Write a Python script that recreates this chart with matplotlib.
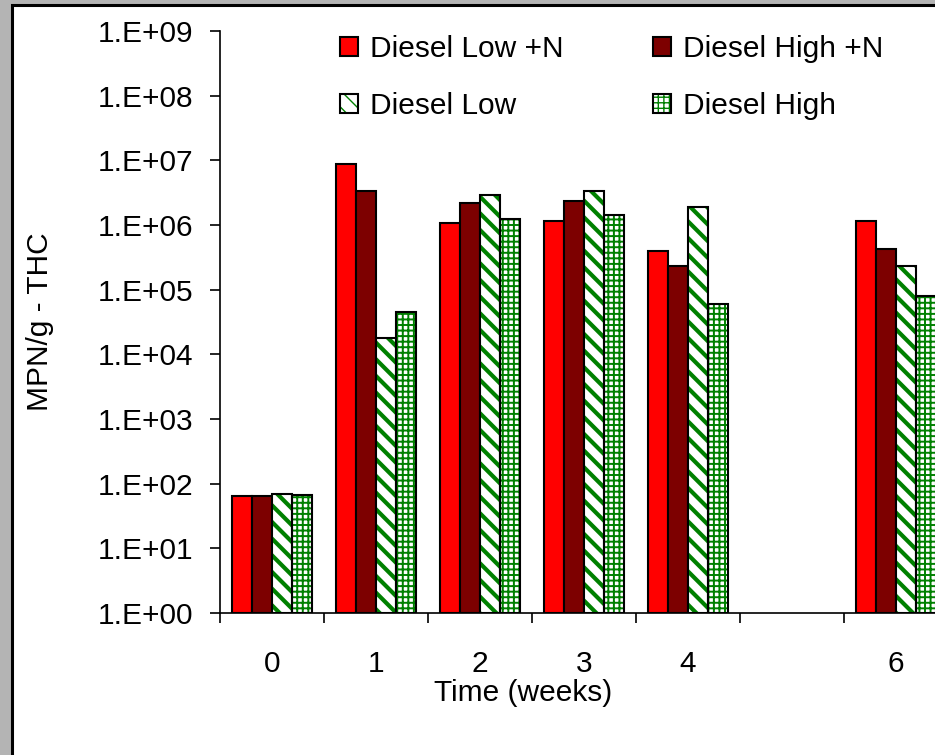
import matplotlib
matplotlib.use("Agg")
import matplotlib.pyplot as plt
import matplotlib.patches as patches
from matplotlib.legend_handler import HandlerTuple

W, H = 935, 755

weeks = [0, 1, 2, 3, 4, 6]
week_labels = ["0", "1", "2", "3", "4", "6"]

low_n = [65, 8.7e6, 1.06e6, 1.14e6, 3.96e5, 1.15e6]
high_n = [65, 3.35e6, 2.21e6, 2.35e6, 2.32e5, 4.2e5]
low = [68, 1.77e4, 2.91e6, 3.35e6, 1.90e6, 2.35e5]
high = [66, 4.47e4, 1.22e6, 1.43e6, 6.0e4, 8.0e4]

series = [
    ("Diesel Low +N", low_n, "#ff0000", None),
    ("Diesel High +N", high_n, "#7d0000", None),
    ("Diesel Low", low, "white", "\\\\"),
    ("Diesel High", high, "white", "+++"),
]

plt.rcParams["font.family"] = ["Liberation Sans", "DejaVu Sans"]
FS = 21.5
HATCH_GREEN = "#008000"


def set_hatch_width(artist, lw):
    if hasattr(artist, "set_hatch_linewidth"):
        artist.set_hatch_linewidth(lw)


fig = plt.figure(figsize=(W / 100, H / 100), dpi=100)
fig.patch.set_facecolor("#b4b4b4")

# white panel with a black border running off the right and bottom edges
panel = patches.Rectangle((11.5 / W, -0.05), 1.1, 1 - 4.5 / H + 0.05,
                          transform=fig.transFigure, facecolor="white",
                          edgecolor="black", linewidth=2.2, zorder=-5)
fig.patches.append(panel)

ax = fig.add_axes([220 / W, 142 / H, 728 / W, 582 / H])
ax.set_facecolor("none")

width = 0.19
offsets = [-1.5, -0.5, 0.5, 1.5]
handles = {}
for (name, vals, color, hatch), off in zip(series, offsets):
    xs = [w + off * width for w in weeks]
    heights = [v - 1 for v in vals]
    if hatch is None:
        ax.bar(xs, heights, width, bottom=1, color=color,
               edgecolor="black", linewidth=1.5, zorder=2)
        handles[name] = patches.Patch(facecolor=color, edgecolor="black",
                                      linewidth=1.5)
    else:
        hlw = 3.0 if hatch.startswith("\\") else 1.4
        with plt.rc_context({"hatch.linewidth": hlw}):
            fill = ax.bar(xs, heights, width, bottom=1, color="white",
                          edgecolor=HATCH_GREEN, hatch=hatch, linewidth=0,
                          zorder=2)
            for b in fill:
                set_hatch_width(b, hlw)
            hp = patches.Patch(facecolor="white", edgecolor=HATCH_GREEN,
                               hatch=hatch, linewidth=0)
            set_hatch_width(hp, hlw)
        ax.bar(xs, heights, width, bottom=1, fill=False,
               edgecolor="black", linewidth=1.5, zorder=3)
        outline = patches.Patch(fill=False, edgecolor="black", linewidth=1.5)
        handles[name] = (hp, outline)

ax.set_yscale("log")
ax.set_ylim(1, 1e9)
ax.set_xlim(-0.5, 6.5)

ax.set_yticks([10 ** k for k in range(10)])
ax.set_yticklabels([f"1.E+{k:02d}" for k in range(10)], fontsize=FS)
ax.yaxis.set_minor_locator(matplotlib.ticker.NullLocator())
ax.tick_params(axis="y", which="major", direction="out", length=7.2,
               width=1.2, pad=12)

ax.set_xticks([x - 0.5 for x in range(8)])
ax.set_xticklabels([])
ax.set_xticks(weeks, minor=True)
ax.set_xticklabels(week_labels, minor=True, fontsize=FS)
ax.tick_params(axis="x", which="major", direction="out", length=7.2,
               width=1.2)
ax.tick_params(axis="x", which="minor", length=0, pad=27)

for side in ("top", "right"):
    ax.spines[side].set_visible(False)
for side in ("left", "bottom"):
    ax.spines[side].set_linewidth(1.2)

fig.text(40 / W, 1 - 322 / H, "MPN/g - THC", rotation=90,
         ha="center", va="center", fontsize=FS)
fig.text(523 / W, 1 - 693 / H, "Time (weeks)", ha="center", va="center",
         fontsize=FS)

order = ["Diesel Low +N", "Diesel Low", "Diesel High +N", "Diesel High"]
ax.legend([handles[n] for n in order], order, ncol=2, frameon=False,
          loc="upper left", bbox_to_anchor=(340 / W, 1 - 35 / H),
          bbox_transform=fig.transFigure, borderpad=0, borderaxespad=0,
          handlelength=0.6, handleheight=0.6, handletextpad=0.4,
          columnspacing=3.0, labelspacing=0.98, fontsize=FS,
          handler_map={tuple: HandlerTuple(ndivide=1, pad=0)})

fig.savefig("out.png", dpi=100)
